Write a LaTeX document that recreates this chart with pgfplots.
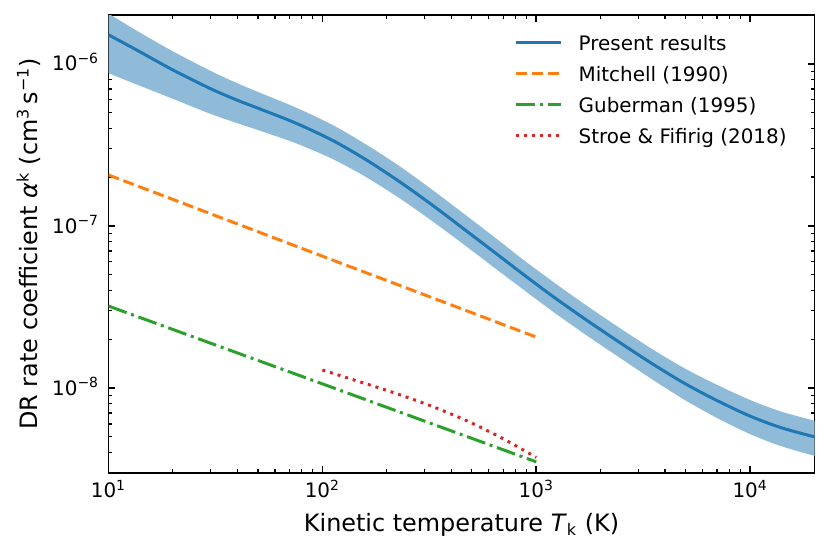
\documentclass[border=0pt]{standalone}
\usepackage{fontspec}
\setmainfont{DejaVu Sans}
\usepackage{pgfplots}
\pgfplotsset{compat=1.18}
\usepgfplotslibrary{fillbetween}
\definecolor{tabblue}{HTML}{1F77B4}
\definecolor{taborange}{HTML}{FF7F0E}
\definecolor{tabgreen}{HTML}{2CA02C}
\definecolor{tabred}{HTML}{D62728}
\definecolor{bandblue}{HTML}{8FBBD9}
\begin{document}
\begin{tikzpicture}
\begin{axis}[
  at={(0,0)}, anchor=south west,
  scale only axis, width=353bp, height=228.85bp,
  xmode=log, ymode=log,
  xmin=10, xmax=20000, ymin=3e-9, ymax=2e-6,
  xtick={10,100,1000,10000},
  xticklabels={10\textsuperscript{1},10\textsuperscript{2},10\textsuperscript{3},10\textsuperscript{4}},
  minor xtick={20,30,40,50,60,70,80,90,200,300,400,500,600,700,800,900,2000,3000,4000,5000,6000,7000,8000,9000},
  ytick={1e-8,1e-7,1e-6},
  yticklabels={10\textsuperscript{−8},10\textsuperscript{−7},10\textsuperscript{−6}},
  minor ytick={4e-9,5e-9,6e-9,7e-9,8e-9,9e-9,2e-8,3e-8,4e-8,5e-8,6e-8,7e-8,8e-8,9e-8,2e-7,3e-7,4e-7,5e-7,6e-7,7e-7,8e-7,9e-7},
  tick align=inside,
  xtick pos=both, ytick pos=both,
  ticklabel pos=left,
  major tick length=3.5bp, minor tick length=2bp,
  tick style={black},
  major tick style={line width=0.8bp},
  minor tick style={line width=0.6bp},
  axis line style={line width=0.8bp},
  xticklabel style={font=\fontsize{10}{12}\selectfont, anchor=north, inner sep=0pt, yshift=-3.5bp},
  yticklabel style={font=\fontsize{10}{12}\selectfont, anchor=base east, inner sep=0pt, xshift=-4.5bp, yshift=-3.6bp},
  xlabel={Kinetic temperature \textit{T}\textsubscript{k} (K)},
  ylabel={DR rate coefficient \textit{α}\textsuperscript{k} (cm\textsuperscript{3}\,s\textsuperscript{−1})},
  xlabel style={font=\fontsize{12}{14}\selectfont, at={(axis description cs:0.5,-0.1289)}, anchor=base, inner sep=0pt},
  ylabel style={font=\fontsize{12}{14}\selectfont, at={(axis description cs:-0.1008,0.5)}, anchor=base, inner sep=0pt},
  legend style={at={(axis description cs:0.5745,0.9738)}, anchor=north west, draw=none, fill=none,
    inner sep=0pt, row sep=0pt, column sep=8.1bp,
    font=\fontsize{10}{12}\selectfont,
    nodes={inner sep=0pt, text height=11.5bp, text depth=4bp}},
  legend cell align=left,
  legend image code/.code={\draw[#1] (0bp,0bp) -- (22.5bp,0bp);},
]
\addplot[name path=up, draw=none, smooth, forget plot] coordinates {
(10,2.04e-6) (13.8,1.578e-6) (20,1.194e-6) (30,9.04e-7) (40,7.59e-7) (50,6.70e-7)
(75,5.38e-7) (112,4.18e-7) (160,3.18e-7) (230,2.33e-7) (330,1.652e-7) (480,1.135e-7)
(675,8.04e-8) (840,6.40e-8) (1200,4.51e-8) (1720,3.22e-8) (2460,2.34e-8) (3500,1.73e-8)
(5000,1.309e-8) (7000,1.045e-8) (10000,8.43e-9) (14000,7.14e-9) (20000,6.28e-9)
};
\addplot[name path=lo, draw=none, smooth, forget plot] coordinates {
(10,8.75e-7) (13.8,7.38e-7) (20,6.08e-7) (30,4.91e-7) (40,4.30e-7) (50,3.90e-7)
(75,3.24e-7) (112,2.58e-7) (160,2.00e-7) (230,1.479e-7) (330,1.059e-7) (480,7.33e-8)
(675,5.21e-8) (840,4.19e-8) (1200,2.95e-8) (1720,2.11e-8) (2460,1.535e-8) (3500,1.125e-8)
(5000,8.36e-9) (7000,6.53e-9) (10000,5.19e-9) (14000,4.37e-9) (20000,3.81e-9)
};
\addplot[fill=bandblue, forget plot] fill between[of=up and lo];
\addplot[tabblue, line width=1.5bp, smooth] coordinates {
(10,1.51e-6) (13.8,1.20e-6) (20,9.16e-7) (30,7.02e-7) (40,5.96e-7) (50,5.32e-7)
(75,4.31e-7) (112,3.36e-7) (160,2.56e-7) (230,1.87e-7) (330,1.33e-7) (480,9.14e-8)
(675,6.49e-8) (840,5.20e-8) (1200,3.66e-8) (1720,2.62e-8) (2460,1.905e-8) (3500,1.406e-8)
(5000,1.057e-8) (7000,8.36e-9) (10000,6.70e-9) (14000,5.68e-9) (20000,4.99e-9)
};
\addlegendentry{Present results}
\addplot[taborange, line width=1.5bp, dash pattern=on 5.55bp off 2.4bp] coordinates {
(10,2.06e-7) (100,6.5e-8) (1000,2.06e-8)
};
\addlegendentry{Mitchell (1990)}
\addplot[tabgreen, line width=1.5bp, dash pattern=on 9.6bp off 2.4bp on 1.5bp off 2.4bp] coordinates {
(10,3.2e-8) (100,1.06e-8) (1000,3.5e-9)
};
\addlegendentry{Guberman (1995)}
\addplot[tabred, line width=1.5bp, dash pattern=on 1.5bp off 2.475bp, smooth] coordinates {
(100,1.29e-8) (200,9.66e-9) (300,8.02e-9) (400,6.90e-9) (500,6.07e-9) (700,4.86e-9) (1000,3.73e-9)
};
\addlegendentry{Stroe \& Fifirig (2018)}
\end{axis}
\pgfresetboundingbox
\path[use as bounding box] (-54.25bp,-41.15bp) rectangle (360.75bp,236.35bp);
\end{tikzpicture}
\end{document}
